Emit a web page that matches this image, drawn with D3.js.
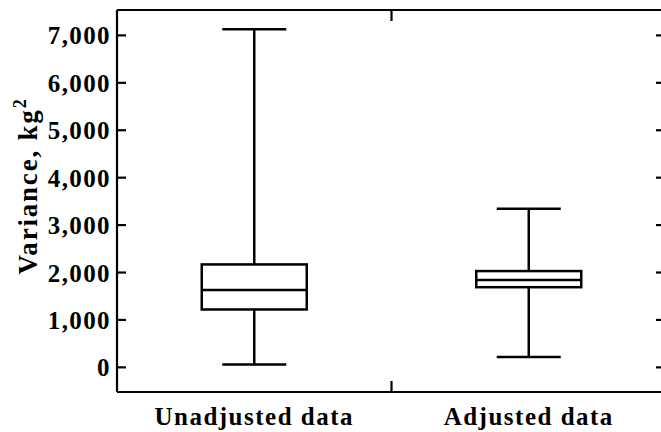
<!DOCTYPE html>
<html>
<head>
<meta charset="utf-8">
<script src="https://cdn.jsdelivr.net/npm/d3@7"></script>
<style>
  body { margin: 0; background: #fff; }
  svg text { font-family: "Liberation Serif", "Times New Roman", serif; font-weight: bold; fill: #000; }
</style>
</head>
<body>
<svg></svg>
<script>
const width = 661;
const height = 432;

// data
const categories = ["Unadjusted data", "Adjusted data"];
const mins = [50, 210];
const q1s = [1210, 1680];
const medians = [1620, 1830];
const q3s = [2160, 2020];
const maxs = [7120, 3335];
const yTicks = [0, 1000, 2000, 3000, 4000, 5000, 6000, 7000];

const margin = { left: 117, right: 666, top: 10, bottom: 392 };

const svg = d3.select("svg")
  .attr("width", width)
  .attr("height", height);

const x = d3.scaleBand()
  .domain(categories)
  .range([margin.left, margin.right]);

const y = d3.scaleLinear()
  .domain([-530, 7525])
  .range([margin.bottom, margin.top]);

const boxW = 105;
const capW = 64;

// axes
const yAxis = svg.append("g")
  .attr("transform", `translate(${margin.left},0)`)
  .call(d3.axisLeft(y).tickValues(yTicks).tickSize(-9).tickPadding(6).tickFormat(d3.format(",")));

const yAxisR = svg.append("g")
  .attr("transform", `translate(${margin.right},0)`)
  .call(d3.axisRight(y).tickValues(yTicks).tickSize(-10).tickFormat(""));

const xAxis = svg.append("g")
  .attr("transform", `translate(0,${margin.bottom})`)
  .call(d3.axisBottom(x).tickSize(0).tickPadding(13));

const xTop = svg.append("g")
  .attr("transform", `translate(0,${margin.top})`)
  .call(d3.axisTop(x).tickSize(0).tickFormat(""));

[yAxis, yAxisR, xAxis, xTop].forEach(g => {
  g.select(".domain").attr("stroke", "#000").attr("stroke-width", 2.2);
  g.selectAll(".tick line").attr("stroke", "#000").attr("stroke-width", 2.2);
});
yAxis.select(".domain").attr("d", `M0,${margin.top}V${margin.bottom}`);
yAxisR.select(".domain").attr("d", `M0,${margin.top}V${margin.bottom}`);
xAxis.select(".domain").attr("d", `M${margin.left},0H${margin.right}`);
xTop.select(".domain").attr("d", `M${margin.left},0H${margin.right}`);

yAxis.selectAll(".tick text")
  .attr("font-size", 25)
  .attr("letter-spacing", "1.4px")
  .attr("dy", "0.36em");

xAxis.selectAll(".tick text")
  .attr("font-size", 25)
  .attr("letter-spacing", "1.5px")
  .attr("dy", "0.8em");

// divider ticks between the two groups
const mid = x.range()[0] + x.step();
svg.append("line")
  .attr("x1", mid).attr("x2", mid)
  .attr("y1", margin.top).attr("y2", margin.top + 11)
  .attr("stroke", "#000").attr("stroke-width", 2.2);
svg.append("line")
  .attr("x1", mid).attr("x2", mid)
  .attr("y1", margin.bottom).attr("y2", margin.bottom - 11)
  .attr("stroke", "#000").attr("stroke-width", 2.2);

// boxes
const boxes = categories.map((c, i) => ({
  cat: c, min: mins[i], q1: q1s[i], med: medians[i], q3: q3s[i], max: maxs[i]
}));

const g = svg.selectAll(".box")
  .data(boxes)
  .join("g")
  .attr("class", "box")
  .attr("transform", d => `translate(${x(d.cat) + x.bandwidth() / 2},0)`)
  .attr("stroke", "#000")
  .attr("stroke-width", 2.5)
  .attr("fill", "none");

g.append("line")
  .attr("x1", 0).attr("x2", 0)
  .attr("y1", d => y(d.max)).attr("y2", d => y(d.q3));
g.append("line")
  .attr("x1", 0).attr("x2", 0)
  .attr("y1", d => y(d.q1)).attr("y2", d => y(d.min));
g.append("line")
  .attr("x1", -capW / 2).attr("x2", capW / 2)
  .attr("y1", d => y(d.max)).attr("y2", d => y(d.max));
g.append("line")
  .attr("x1", -capW / 2).attr("x2", capW / 2)
  .attr("y1", d => y(d.min)).attr("y2", d => y(d.min));
g.append("rect")
  .attr("x", -boxW / 2)
  .attr("width", boxW)
  .attr("y", d => y(d.q3))
  .attr("height", d => y(d.q1) - y(d.q3))
  .attr("fill", "#fff");
g.append("line")
  .attr("x1", -boxW / 2).attr("x2", boxW / 2)
  .attr("y1", d => y(d.med)).attr("y2", d => y(d.med));

// y title
const title = svg.append("text")
  .attr("transform", `translate(37,186) rotate(-90)`)
  .attr("text-anchor", "middle")
  .attr("font-size", 27)
  .attr("letter-spacing", "1.8px");
title.append("tspan").text("Variance, kg");
title.append("tspan").attr("font-size", 18).attr("dy", -11).text("2");
</script>
</body>
</html>
